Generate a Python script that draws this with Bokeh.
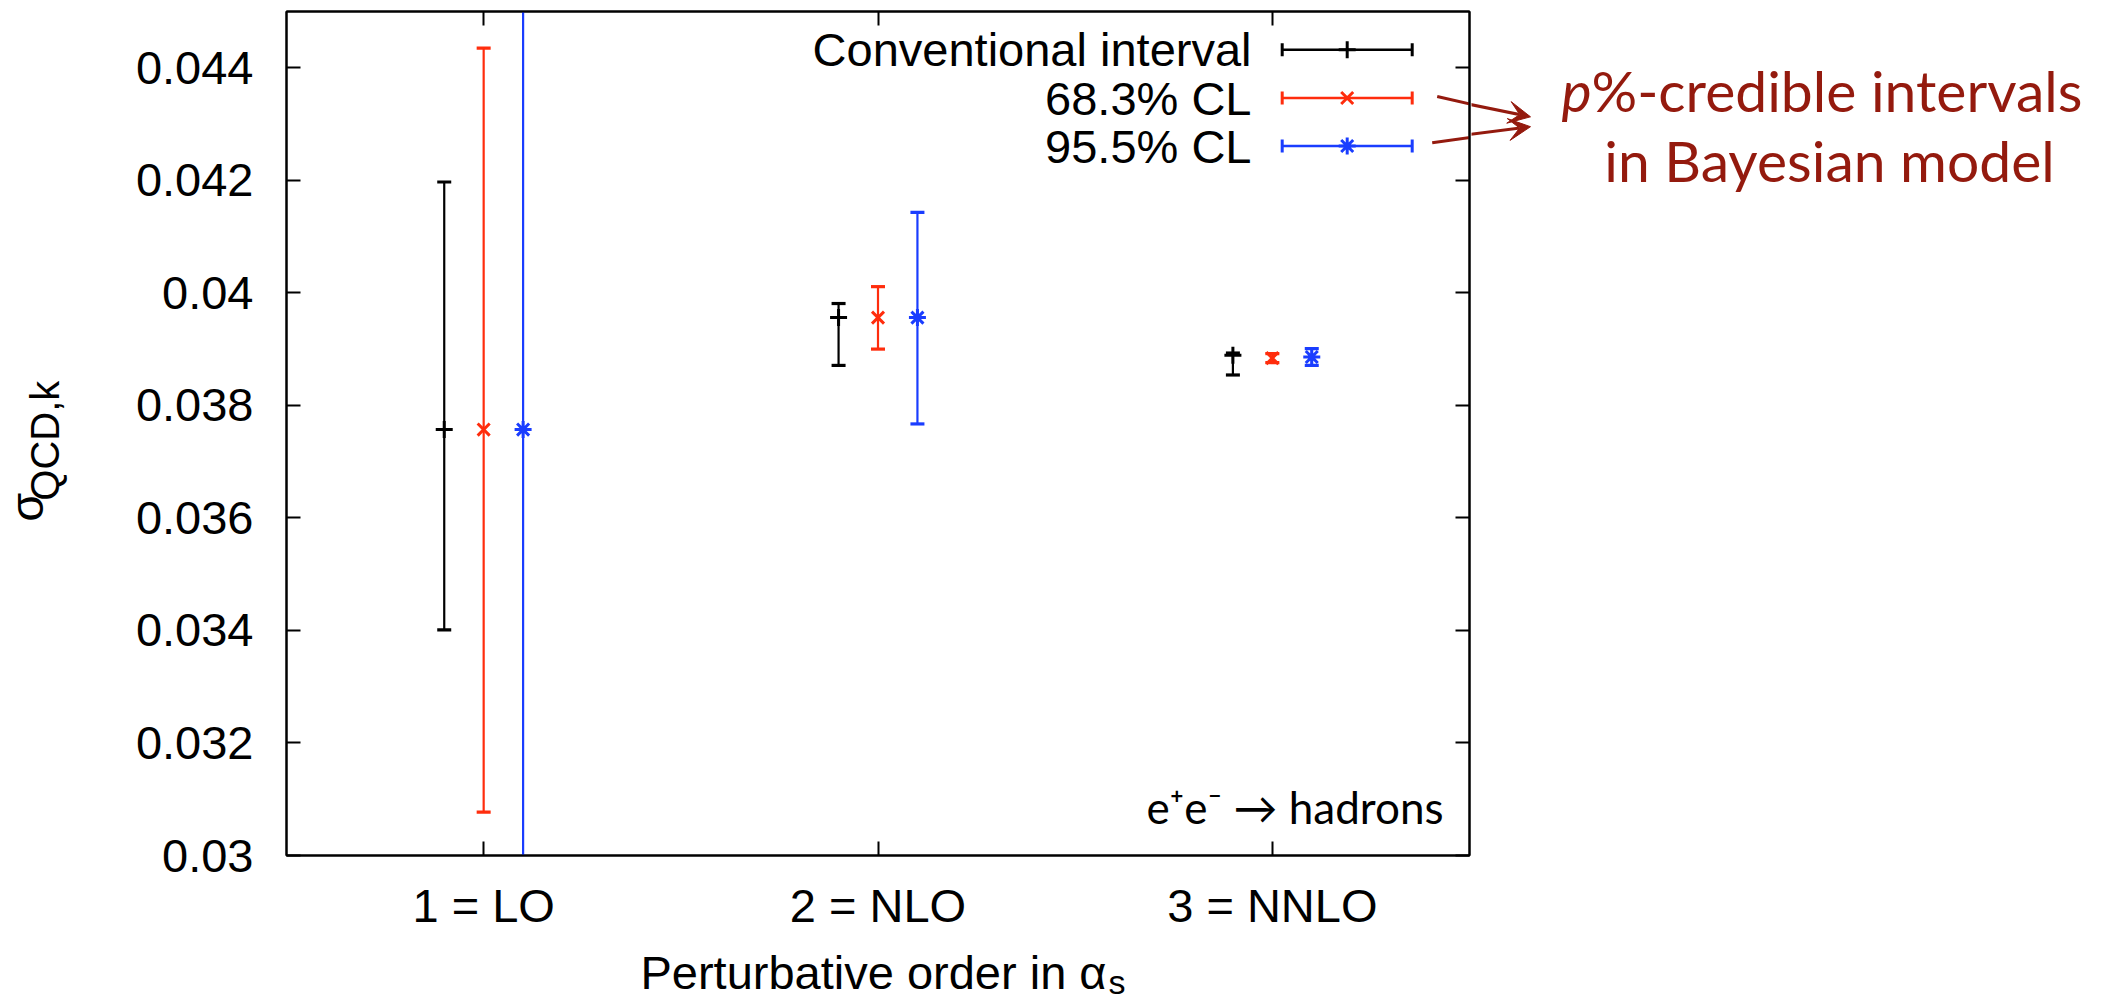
import math
from bokeh.plotting import figure
from bokeh.layouts import row, column
from bokeh.models import Range1d, LinearAxis, FixedTicker, Label, Arrow, VeeHead
from bokeh.embed import file_html
from bokeh.resources import INLINE

# ---------------- data ----------------
orders = [1, 2, 3]
order_labels = ["1 = LO", "2 = NLO", "3 = NNLO"]
y_ticks = [0.030, 0.032, 0.034, 0.036, 0.038, 0.040, 0.042, 0.044]
y_tick_labels = ["0.03", "0.032", "0.034", "0.036", "0.038", "0.04", "0.042", "0.044"]
series_names = ["Conventional interval", "68.3% CL", "95.5% CL"]

conv_center = [0.03757, 0.03956, 0.03889]
conv_lo = [0.03401, 0.03871, 0.03854]
conv_hi = [0.04197, 0.03981, 0.03893]

cl68_center = [0.03757, 0.03956, 0.03884]
cl68_lo = [0.03077, 0.03900, 0.03876]
cl68_hi = [0.04435, 0.04011, 0.03892]

cl95_center = [0.03757, 0.03956, 0.03886]
cl95_lo = [0.02400, 0.03767, 0.03871]
cl95_hi = [0.05120, 0.04143, 0.03901]

x_label = "Perturbative order in α"
x_label_sub = "s"
y_label = "σ"
y_label_sub = "QCD,k"
process_label = "e⁺e⁻ → hadrons"
note_p = "p"
note_line1 = "%-credible intervals"
note_line2 = "in Bayesian model"

# ---------------- style / layout (page pixels) ----------------
X_MIN, X_MAX = 0.5, 3.5
Y_MIN, Y_MAX = 0.030, 0.045
TOTAL_W, TOTAL_H = 2108, 1001
FRAME_L, FRAME_R, FRAME_T, FRAME_B = 286, 1469, 11, 855
YFIG_W = 80                      # strip holding the y title
NOTE_X0 = 1471                   # strip holding the note on the right
ROW_H = 940                      # strip below holds the x title
MID = 0.35                       # em-middle above the baseline, in font sizes
ROT_SHIFT = 60                   # correction for rotated labels

BLACK = "#000000"
RED = "#ff2d0d"
BLUE = "#1a3dff"
DARKRED = "#941a0e"
FONT = "Liberation Sans"
NOTE_FONT = "Lato"
OFFSETS = [-0.1, 0.0, 0.1]


def dx(px):
    return X_MIN + (px - FRAME_L) / (FRAME_R - FRAME_L) * (X_MAX - X_MIN)


def dy(py):
    return Y_MAX - (py - FRAME_T) / (FRAME_B - FRAME_T) * (Y_MAX - Y_MIN)


def mid(baseline, size):
    return baseline - MID * size


def blank_fig(w, h):
    f = figure(width=w, height=h, output_backend="svg", toolbar_location=None,
               x_range=Range1d(0, w), y_range=Range1d(0, h),
               x_axis_location=None, y_axis_location=None, min_border=0)
    f.grid.visible = False
    f.outline_line_color = None
    f.background_fill_color = "white"
    f.border_fill_color = "white"
    return f


# ---------------- main plot ----------------
MAIN_W = NOTE_X0 - YFIG_W
p = figure(
    width=MAIN_W, height=ROW_H, output_backend="svg", toolbar_location=None,
    x_range=Range1d(X_MIN, X_MAX), y_range=Range1d(Y_MIN, Y_MAX),
    x_axis_location=None, y_axis_location=None,
    min_border_left=FRAME_L - YFIG_W, min_border_right=NOTE_X0 - FRAME_R,
    min_border_top=FRAME_T, min_border_bottom=ROW_H - FRAME_B,
)
p.grid.visible = False
p.outline_line_color = BLACK
p.outline_line_width = 2
p.background_fill_color = "white"
p.border_fill_color = "white"


def make_axis(ticks, labels, show_labels, standoff):
    ax = LinearAxis(ticker=FixedTicker(ticks=ticks))
    ax.major_tick_in = 14
    ax.major_tick_out = 0
    ax.minor_tick_line_color = None
    ax.axis_line_width = 2
    ax.major_tick_line_width = 2
    ax.major_label_text_font = FONT
    ax.major_label_text_color = BLACK
    if show_labels:
        ax.major_label_text_font_size = "47px"
        ax.major_label_overrides = {t: l for t, l in zip(ticks, labels)}
        ax.major_label_standoff = standoff
    else:
        ax.major_label_text_font_size = "0px"
        ax.major_label_standoff = 0
        ax.major_label_overrides = {t: "" for t in ticks}
    return ax


p.add_layout(make_axis(orders, order_labels, True, 23), "below")
p.add_layout(make_axis(orders, order_labels, False, 0), "above")
p.add_layout(make_axis(y_ticks, y_tick_labels, True, 33), "left")
p.add_layout(make_axis(y_ticks, y_tick_labels, False, 0), "right")

series = [
    (conv_center, conv_lo, conv_hi, BLACK, "cross"),
    (cl68_center, cl68_lo, cl68_hi, RED, "x"),
    (cl95_center, cl95_lo, cl95_hi, BLUE, "asterisk"),
]

for (center, lo, hi, color, marker), off in zip(series, OFFSETS):
    xs = [o + off for o in orders]
    p.segment(x0=xs, y0=lo, x1=xs, y1=hi, line_color=color, line_width=2.2)
    p.scatter(x=xs, y=lo, marker="dash", size=14, line_color=color, line_width=3.2)
    p.scatter(x=xs, y=hi, marker="dash", size=14, line_color=color, line_width=3.2)
    p.scatter(x=xs, y=center, marker=marker, size=17, line_color=color,
              fill_color=None, line_width=3)

# legend, gnuplot style: right-aligned text, sample to its right
LEG_TEXT_R = 1251
LEG_X0, LEG_X1, LEG_XM = 1281.7, 1411.7, 1346.7
LEG_Y = [49.3, 97.5, 145.5]
for name, (center, lo, hi, color, marker), ly in zip(series_names, series, LEG_Y):
    p.add_layout(Label(x=dx(LEG_TEXT_R), y=dy(ly), text=name, text_align="right",
                       text_baseline="middle", text_font=FONT, text_font_size="47px",
                       text_color=BLACK))
    p.segment(x0=[dx(LEG_X0)], y0=[dy(ly)], x1=[dx(LEG_X1)], y1=[dy(ly)],
              line_color=color, line_width=2.5)
    p.scatter(x=[dx(LEG_X0), dx(LEG_X1)], y=[dy(ly), dy(ly)], marker="dash",
              angle=math.pi / 2, size=13, line_color=color, line_width=3)
    p.scatter(x=[dx(LEG_XM)], y=[dy(ly)], marker=marker, size=17, line_color=color,
              fill_color=None, line_width=3)

p.add_layout(Label(x=dx(1443), y=dy(mid(822, 44)), text=process_label,
                   text_align="right", text_baseline="middle", text_font=NOTE_FONT,
                   text_font_size="44px", text_color=BLACK))

ARROWS = [(1436.7, 96, 1530, 117.3), (1431.7, 142.3, 1530, 128.3)]
for (x0, y0, x1, y1) in ARROWS:
    p.segment(x0=[dx(x0)], y0=[dy(y0)], x1=[dx(x1)], y1=[dy(y1)],
              line_color=DARKRED, line_width=3)

# ---------------- y title strip ----------------
yf = blank_fig(YFIG_W, ROW_H)
yf.add_layout(Label(x=mid(42, 47), y=ROW_H - (492 + ROT_SHIFT), text=y_label,
                    angle=math.pi / 2, text_align="center", text_baseline="middle",
                    text_font=FONT, text_font_size="47px", text_color=BLACK))
yf.add_layout(Label(x=mid(58, 40), y=ROW_H - (418 + ROT_SHIFT), text=y_label_sub,
                    angle=math.pi / 2, text_align="center", text_baseline="middle",
                    text_font=FONT, text_font_size="40px", text_color=BLACK))

# ---------------- note strip (right) ----------------
NOTE_W = TOTAL_W - NOTE_X0
nf = blank_fig(NOTE_W, ROW_H)
nf.add_layout(Label(x=1591 - NOTE_X0, y=ROW_H - mid(107, 57), text=note_p,
                    text_align="right", text_baseline="middle", text_font=NOTE_FONT,
                    text_font_style="italic", text_font_size="57px", text_color=DARKRED))
nf.add_layout(Label(x=1591 - NOTE_X0, y=ROW_H - mid(107, 57), text=note_line1,
                    text_align="left", text_baseline="middle", text_font=NOTE_FONT,
                    text_font_size="57px", text_color=DARKRED))
nf.add_layout(Label(x=1829 - NOTE_X0, y=ROW_H - mid(185, 57), text=note_line2,
                    text_align="center", text_baseline="middle", text_font=NOTE_FONT,
                    text_font_size="57px", text_color=DARKRED))
for (x0, y0, x1, y1) in ARROWS:
    nf.add_layout(Arrow(end=VeeHead(size=22, fill_color=DARKRED, line_color=DARKRED),
                        x_start=x0 - NOTE_X0, y_start=ROW_H - y0,
                        x_end=x1 - NOTE_X0, y_end=ROW_H - y1,
                        line_color=DARKRED, line_width=3))

# ---------------- x title strip ----------------
XF_H = TOTAL_H - ROW_H
xf = blank_fig(TOTAL_W, XF_H)
xf.add_layout(Label(x=1106, y=TOTAL_H - mid(988, 47), text=x_label, text_align="right",
                    text_baseline="middle", text_font=FONT, text_font_size="47px",
                    text_color=BLACK))
xf.add_layout(Label(x=1108, y=TOTAL_H - mid(993, 34), text=x_label_sub, text_align="left",
                    text_baseline="middle", text_font=FONT, text_font_size="34px",
                    text_color=BLACK))

layout = column(row(yf, p, nf, spacing=0), xf, spacing=0)
open("out.html", "w").write(file_html(layout, INLINE))
